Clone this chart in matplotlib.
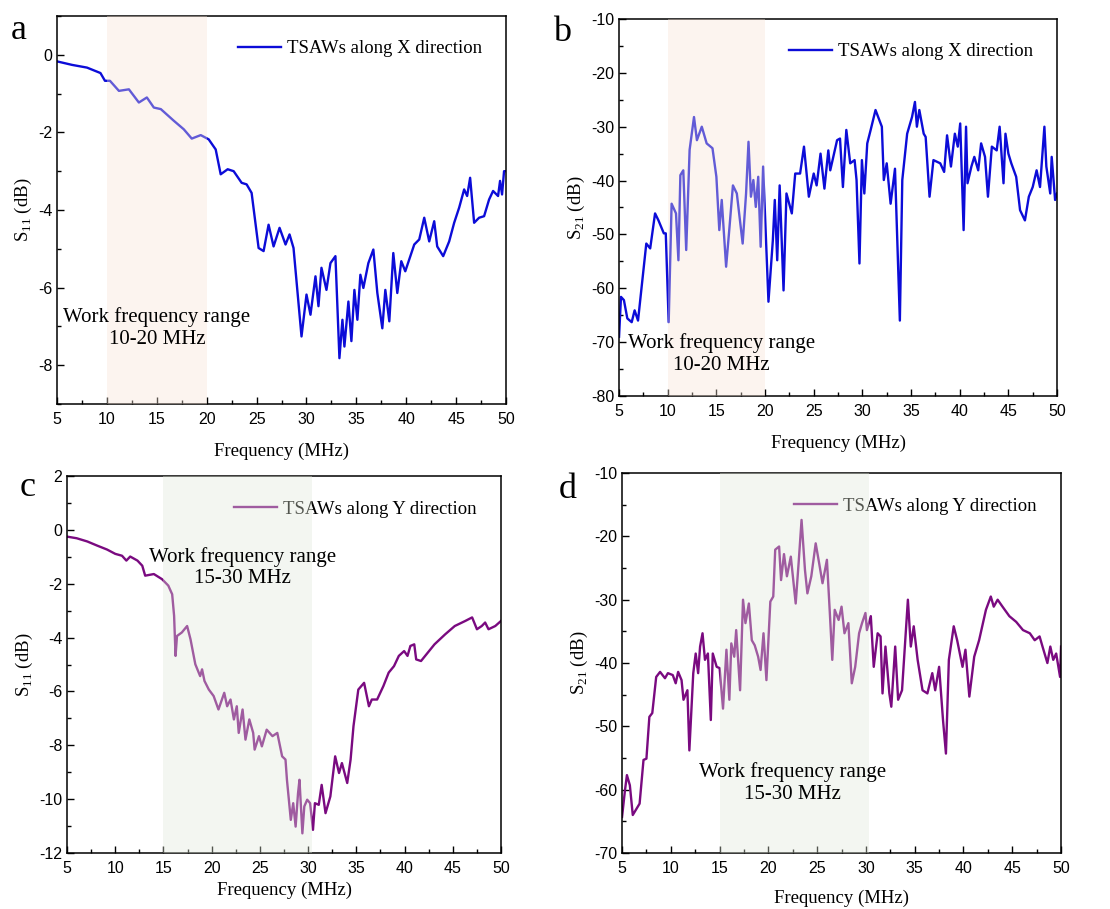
import numpy as np
import matplotlib
matplotlib.use('Agg')
import matplotlib.pyplot as plt
from matplotlib.ticker import MultipleLocator

plt.rcParams['font.family'] = 'Liberation Serif'
plt.rcParams['mathtext.fontset'] = 'custom'
plt.rcParams['mathtext.rm'] = 'Liberation Serif'
plt.rcParams['axes.unicode_minus'] = False

# panel a: S11 along X
freq_a = [5.0, 6.5, 8.0, 9.35, 9.8, 10.3, 11.2, 12.2, 13.2, 14.0, 14.7, 15.4, 16.7, 17.7, 18.5, 19.4,
          20.2, 20.9, 21.4, 22.1, 22.7, 23.5, 24.0, 24.5, 25.2, 25.7, 26.2, 26.7, 27.3, 27.9, 28.3, 28.7,
          29.5, 30.0, 30.4, 30.9, 31.2, 31.5, 32.0, 32.4, 32.9, 33.3, 33.6, 33.8, 34.2, 34.5, 34.8, 35.1,
          35.4, 35.7, 36.2, 36.7, 37.1, 37.6, 37.9, 38.3, 38.7, 39.1, 39.5, 39.9, 40.8, 41.3, 41.8, 42.3,
          42.8, 43.1, 43.7, 44.3, 44.8, 45.3, 45.8, 46.1, 46.4, 46.8, 47.3, 47.8, 48.3, 48.7, 49.2, 49.4,
          49.6, 49.8, 50.0]
s11_x = [-0.17, -0.26, -0.33, -0.47, -0.67, -0.67, -0.93, -0.89, -1.23, -1.10, -1.36, -1.40, -1.70, -1.92, -2.16, -2.07,
         -2.18, -2.44, -3.08, -2.95, -3.00, -3.30, -3.34, -3.56, -4.98, -5.06, -4.38, -4.94, -4.46, -4.89, -4.63, -4.98,
         -7.26, -6.18, -6.70, -5.71, -6.48, -5.49, -6.06, -5.37, -5.19, -7.82, -6.83, -7.52, -6.36, -7.38, -6.06, -6.83,
         -5.67, -6.01, -5.37, -5.02, -6.14, -7.05, -6.06, -6.87, -5.11, -6.14, -5.32, -5.58, -4.89, -4.76, -4.20, -4.81,
         -4.29, -4.94, -5.19, -4.81, -4.33, -3.94, -3.47, -3.64, -3.17, -4.33, -4.20, -4.16, -3.73, -3.51, -3.64, -3.25,
         -3.60, -3.00, -3.00]

# panel b: S21 along X
freq_b = [5.0, 5.2, 5.5, 5.85, 6.3, 6.6, 6.95, 7.3, 7.8, 8.2, 8.7, 9.05, 9.6, 9.8, 10.1, 10.4, 10.85, 11.1,
          11.3, 11.6, 11.9, 12.25, 12.7, 13.0, 13.5, 14.0, 14.6, 15.0, 15.3, 15.55, 16.0, 16.35, 16.7, 17.1,
          17.7, 18.05, 18.3, 18.55, 18.8, 19.05, 19.3, 19.55, 19.8, 20.35, 20.8, 21.0, 21.25, 21.5, 21.9, 22.2,
          22.75, 23.1, 23.6, 24.0, 24.5, 25.0, 25.3, 25.7, 26.1, 26.5, 26.7, 27.4, 27.7, 28.0, 28.35, 28.75,
          29.2, 29.4, 29.7, 29.95, 30.2, 30.5, 30.85, 31.35, 32.0, 32.2, 32.5, 32.9, 33.35, 33.85, 34.1, 34.6,
          35.1, 35.4, 35.6, 35.85, 36.3, 36.5, 36.9, 37.3, 38.0, 38.4, 38.7, 39.1, 39.5, 39.8, 40.05, 40.4,
          40.65, 40.8, 41.2, 41.5, 41.9, 42.2, 42.6, 42.9, 43.3, 43.8, 44.1, 44.5, 44.7, 45.0, 45.3, 45.8,
          46.2, 46.7, 47.1, 47.5, 47.9, 48.25, 48.7, 48.9, 49.3, 49.45, 49.8, 50.0]
s21_x = [-69.0, -61.6, -62.2, -65.6, -66.3, -64.1, -66.0, -60.1, -51.7, -52.6, -46.1, -47.4, -49.8, -49.8, -66.3, -44.3, -46.1, -54.8,
         -39.0, -38.1, -52.9, -34.3, -28.2, -32.5, -30.0, -33.1, -34.0, -39.3, -49.2, -43.6, -56.0, -48.6, -40.9, -42.4,
         -51.7, -42.4, -32.8, -43.0, -39.9, -44.9, -39.3, -52.3, -37.4, -62.5, -51.1, -43.6, -54.8, -40.9, -60.4, -42.4,
         -46.1, -38.7, -38.7, -33.7, -43.0, -38.7, -40.9, -35.0, -41.5, -34.4, -38.1, -32.5, -32.2, -41.2, -30.6, -36.8,
         -36.2, -39.9, -55.4, -36.2, -42.4, -33.1, -30.6, -26.9, -30.0, -39.9, -36.8, -44.3, -37.8, -66.0, -39.9, -31.3,
         -28.2, -25.4, -30.0, -26.9, -31.3, -31.9, -43.0, -36.2, -36.8, -38.4, -31.6, -37.4, -31.3, -33.7, -29.4, -49.2,
         -30.0, -40.5, -37.4, -35.6, -38.1, -33.1, -35.6, -43.0, -33.7, -34.4, -30.0, -40.5, -31.3, -35.0, -36.8, -39.3,
         -45.5, -47.4, -43.0, -41.2, -38.1, -41.2, -30.0, -37.4, -42.4, -35.6, -43.6, -42.4]

# panel c: S11 along Y
freq_c = [5.0, 6.0, 7.1, 8.1, 9.15, 10.0, 10.7, 11.15, 11.55, 12.3, 12.8, 13.1, 14.0, 14.85, 15.5, 15.9,
          16.1, 16.25, 16.4, 16.9, 17.45, 17.8, 18.3, 18.8, 19.0, 19.25, 19.7, 20.2, 20.7, 21.3, 21.6, 21.95,
          22.3, 22.6, 22.8, 23.2, 23.5, 23.9, 24.3, 24.45, 24.9, 25.2, 25.7, 26.3, 26.8, 27.3, 27.65, 27.8,
          28.2, 28.45, 28.7, 28.95, 29.1, 29.4, 29.6, 29.9, 30.2, 30.5, 30.7, 31.1, 31.4, 31.8, 32.3, 32.8,
          33.2, 33.5, 34.05, 34.4, 34.7, 35.2, 35.8, 36.3, 36.6, 37.15, 37.8, 38.35, 38.9, 39.4, 39.95, 40.3,
          40.6, 41.0, 41.2, 41.7, 42.4, 43.1, 44.2, 45.2, 46.3, 47.0, 47.5, 48.0, 48.35, 48.7, 49.4, 50.0]
s11_y = [-0.25, -0.31, -0.43, -0.58, -0.73, -0.89, -0.96, -1.14, -0.99, -1.14, -1.33, -1.70, -1.64, -1.83, -2.07, -2.39,
         -3.19, -4.68, -3.94, -3.81, -3.57, -4.06, -4.99, -5.43, -5.18, -5.61, -5.93, -6.17, -6.67, -6.05, -6.55, -6.30,
         -7.04, -6.55, -7.54, -6.67, -7.79, -7.04, -7.54, -8.16, -7.66, -8.04, -7.42, -7.66, -7.54, -8.41, -8.53, -9.28,
         -10.77, -10.15, -11.02, -9.78, -9.28, -11.27, -10.27, -10.02, -10.15, -11.14, -10.15, -10.21, -9.47, -10.52, -9.90, -8.41,
         -9.03, -8.66, -9.40, -8.53, -7.29, -5.93, -5.68, -6.55, -6.30, -6.30, -5.80, -5.30, -5.06, -4.68, -4.50, -4.68,
         -4.31, -4.25, -4.81, -4.87, -4.56, -4.25, -3.88, -3.57, -3.38, -3.25, -3.69, -3.57, -3.44, -3.69, -3.57, -3.38]

# panel d: S21 along Y
freq_d = [5.0, 5.3, 5.5, 5.8, 6.1, 6.8, 7.2, 7.5, 7.8, 8.1, 8.5, 8.9, 9.4, 9.7, 10.2, 10.5, 10.75, 11.1,
          11.3, 11.7, 11.9, 12.3, 12.55, 12.8, 13.0, 13.25, 13.5, 13.8, 14.1, 14.3, 14.7, 15.0, 15.35, 15.7,
          16.0, 16.2, 16.5, 16.7, 17.1, 17.4, 17.65, 18.0, 18.3, 18.6, 18.95, 19.2, 19.5, 19.8, 20.2, 20.5,
          20.7, 21.1, 21.3, 21.6, 21.9, 22.3, 22.8, 23.1, 23.4, 23.75, 24.0, 24.4, 24.85, 25.2, 25.55, 26.0,
          26.3, 26.55, 26.8, 27.2, 27.5, 27.8, 28.2, 28.55, 28.9, 29.3, 29.6, 29.95, 30.1, 30.5, 30.8, 31.2,
          31.5, 31.7, 32.0, 32.4, 32.6, 33.0, 33.3, 33.7, 34.3, 34.6, 34.9, 35.3, 35.8, 36.3, 36.8, 37.1,
          37.5, 37.9, 38.2, 38.5, 39.0, 39.35, 39.9, 40.2, 40.6, 41.1, 41.6, 42.3, 42.8, 43.1, 43.5, 44.0,
          44.7, 45.4, 46.1, 46.8, 47.3, 47.8, 48.1, 48.6, 48.9, 49.2, 49.5, 49.9, 50.0]
s21_y = [-64.3, -60.1, -57.7, -59.3, -64.0, -62.2, -55.3, -55.1, -48.5, -47.9, -42.2, -41.4, -42.4, -41.6, -41.9, -43.2, -41.4, -42.7,
         -45.8, -44.3, -53.8, -41.6, -38.5, -41.6, -37.4, -35.3, -39.5, -38.5, -49.0, -38.5, -40.6, -40.8, -47.2, -37.9,
         -45.8, -36.9, -39.0, -34.8, -44.3, -30.0, -33.7, -30.6, -36.4, -37.2, -39.0, -41.1, -35.3, -42.7, -30.3, -29.5,
         -22.1, -21.6, -26.9, -22.8, -26.3, -23.2, -30.6, -24.2, -17.4, -25.3, -29.0, -26.3, -21.1, -24.2, -27.4, -23.7,
         -32.1, -39.5, -31.6, -33.2, -31.1, -35.3, -33.7, -43.2, -40.6, -35.3, -33.7, -32.1, -34.8, -32.6, -40.6, -35.3,
         -35.8, -44.8, -37.4, -44.8, -46.9, -37.4, -45.8, -44.3, -30.0, -37.4, -34.2, -39.5, -44.3, -44.8, -41.6, -44.3,
         -40.6, -49.0, -54.3, -39.5, -34.2, -36.4, -40.6, -37.9, -45.3, -39.0, -36.4, -31.6, -29.5, -31.1, -30.0, -31.1,
         -32.6, -33.5, -34.8, -35.3, -36.4, -35.8, -37.4, -40.0, -37.4, -39.5, -38.5, -42.2, -37.4]

blue = '#0c0cd8'
purple = '#7a0a80'
pink = '#f7e3d5'
green = '#e1e9d9'

fig = plt.figure(figsize=(11.1, 9.09), dpi=100)

panels = [
    # rect, x, y, color, ylabel, ylim, ymajor, span, shade, legend, note, note xy, letter, letter xy, xlabel pad
    ([0.0514, 0.5556, 0.4045, 0.4268], freq_a, s11_x, blue, r'S$_{\mathrm{11}}$ (dB)', (-9, 1), 2,
     (10, 20), pink, 'TSAWs along X direction', 'Work frequency range\n10-20 MHz', (15.0, -7.05), 'a', (0.010, 0.966), 11),
    ([0.5577, 0.5644, 0.3946, 0.4147], freq_b, s21_x, blue, r'S$_{\mathrm{21}}$ (dB)', (-80, -10), 10,
     (10, 20), pink, 'TSAWs along X direction', 'Work frequency range\n10-20 MHz', (15.55, -72.2), 'b', (0.498, 0.964), 11),
    ([0.0604, 0.0616, 0.3910, 0.4147], freq_c, s11_y, purple, r'S$_{\mathrm{11}}$ (dB)', (-12, 2), 2,
     (15, 30.4), green, 'TSAWs along Y direction', 'Work frequency range\n15-30 MHz', (23.15, -1.4), 'c', (0.018, 0.464), 4),
    ([0.5604, 0.0616, 0.3955, 0.4180], freq_d, s21_y, purple, r'S$_{\mathrm{21}}$ (dB)', (-70, -10), 10,
     (15, 30.3), green, 'TSAWs along Y direction', 'Work frequency range\n15-30 MHz', (22.5, -59.0), 'd', (0.503, 0.462), 9.5),
]

for (rect, x, y, color, ylabel, ylim, ymaj, span, shade, leg, note, note_xy,
     letter, letter_xy, xpad) in panels:
    ax = fig.add_axes(rect)
    ax.plot(x, y, color=color, lw=1.7, label=leg, zorder=2)
    # shaded band sits over the curve and the legend, as in the original
    ax.axvspan(span[0], span[1], color=shade, alpha=0.37, lw=0, zorder=8)
    ax.set_xlim(5, 50)
    ax.set_ylim(*ylim)
    ax.xaxis.set_major_locator(MultipleLocator(5))
    ax.xaxis.set_minor_locator(MultipleLocator(2.5))
    ax.yaxis.set_major_locator(MultipleLocator(ymaj))
    ax.yaxis.set_minor_locator(MultipleLocator(ymaj / 2))
    ax.tick_params(which='both', direction='in', labelsize=11.5, labelfontfamily='Liberation Sans')
    ax.tick_params(which='major', length=5, width=1)
    ax.tick_params(which='minor', length=3, width=1)
    ax.tick_params(axis='x', which='major', pad=6)
    for sp in ax.spines.values():
        sp.set_linewidth(1.1)
    ax.set_xlabel('Frequency (MHz)', fontsize=13.5, labelpad=xpad)
    ax.set_ylabel(ylabel, fontsize=13.5, labelpad=3)
    lg = ax.legend(loc='upper right', frameon=False, fontsize=13.5, handlelength=2.3,
                   handletextpad=0.3, borderaxespad=0.9)
    lg.set_zorder(5)
    ax.text(note_xy[0], note_xy[1], note, ha='center', va='center', fontsize=15,
            linespacing=1.2, zorder=10)
    fig.text(letter_xy[0], letter_xy[1], letter, fontsize=26, ha='left', va='center')

fig.savefig('out.png', dpi=100)
